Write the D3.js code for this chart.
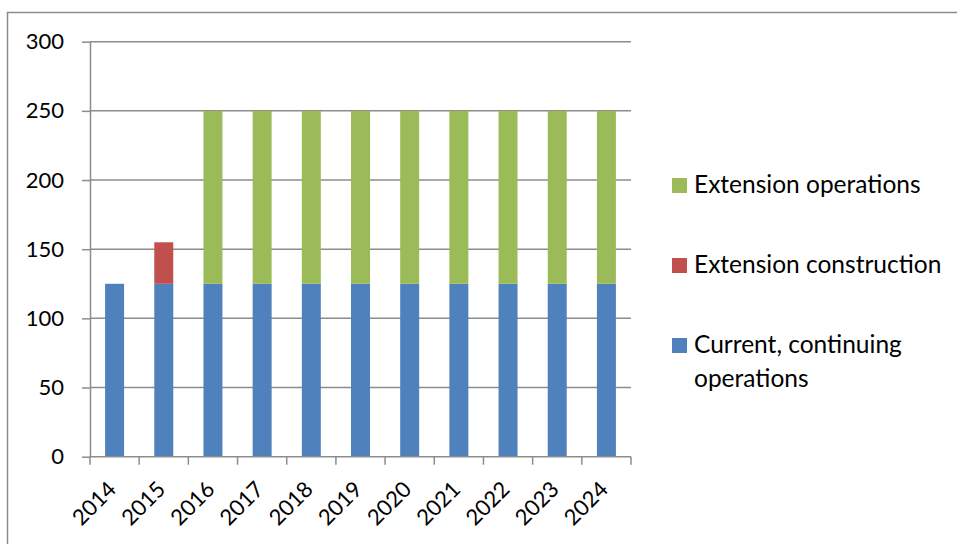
<!DOCTYPE html>
<html>
<head>
<meta charset="utf-8">
<script src="https://cdn.jsdelivr.net/npm/d3@7"></script>
<style>
  html, body { margin: 0; padding: 0; background: #fff; }
  svg { display: block; font-family: Lato, "Open Sans", sans-serif; }
</style>
</head>
<body>
<svg id="chart" width="957" height="544"></svg>
<script>
// Annual figures by year
const years = ["2014", "2015", "2016", "2017", "2018", "2019", "2020", "2021", "2022", "2023", "2024"];
const currentOps = [125, 125, 125, 125, 125, 125, 125, 125, 125, 125, 125];
const extConstruction = [0, 30, 0, 0, 0, 0, 0, 0, 0, 0, 0];
const extOperations = [0, 0, 125, 125, 125, 125, 125, 125, 125, 125, 125];
const yTicks = [0, 50, 100, 150, 200, 250, 300];

const seriesNames = ["Current, continuing operations", "Extension construction", "Extension operations"];
const seriesColors = ["#4F81BD", "#C0504D", "#9BBB59"];
const seriesValues = [currentOps, extConstruction, extOperations];

const svg = d3.select("#chart");
const gridColor = "#8c8c8c";

// Outer chart frame (runs past the right and bottom edges)
svg.append("rect")
  .attr("x", 7.5).attr("y", 12.5)
  .attr("width", 1000).attr("height", 600)
  .attr("fill", "none").attr("stroke", gridColor).attr("stroke-width", 1.5);

const plot = { left: 90, right: 631, top: 41.7, bottom: 456.7 };

const xCat = d3.scaleBand().domain(years).range([plot.left, plot.right]).padding(0);
const xBar = d3.scaleBand().domain(years).range([plot.left, plot.right])
  .paddingInner(0.614).paddingOuter(0.307);
const y = d3.scaleLinear().domain([0, 300]).range([plot.bottom, plot.top]);

// Horizontal gridlines
svg.append("g").selectAll("line").data(yTicks.filter(d => d > 0)).join("line")
  .attr("x1", plot.left).attr("x2", plot.right)
  .attr("y1", d => y(d)).attr("y2", d => y(d))
  .attr("stroke", gridColor).attr("stroke-width", 1.5);

// Stacked bars
const table = years.map((yr, i) => {
  const row = { year: yr };
  seriesNames.forEach((s, k) => { row[s] = seriesValues[k][i]; });
  return row;
});
const stacked = d3.stack().keys(seriesNames)(table);

svg.append("g").selectAll("g").data(stacked).join("g")
  .attr("fill", (d, i) => seriesColors[i])
  .selectAll("rect").data(d => d.filter(p => p[1] - p[0] > 0)).join("rect")
  .attr("x", d => xBar(d.data.year))
  .attr("width", xBar.bandwidth())
  .attr("y", d => y(d[1]))
  .attr("height", d => y(d[0]) - y(d[1]));

// Y axis
const yAxis = svg.append("g")
  .attr("transform", `translate(${plot.left},0)`)
  .call(d3.axisLeft(y).tickValues(yTicks).tickSizeInner(8).tickSizeOuter(0).tickPadding(18));
yAxis.select(".domain").attr("stroke", gridColor).attr("stroke-width", 1.5);
yAxis.selectAll(".tick line").attr("stroke", gridColor).attr("stroke-width", 1.5);
yAxis.selectAll(".tick text")
  .attr("fill", "#000").style("font-size", "22px").style("font-family", "Lato, sans-serif");

// X axis with ticks on category boundaries
const xAxisG = svg.append("g").attr("transform", `translate(0,${plot.bottom})`);
xAxisG.append("line")
  .attr("x1", plot.left).attr("x2", plot.right)
  .attr("stroke", gridColor).attr("stroke-width", 1.5);
const boundaries = years.map(d => xCat(d)).concat([plot.right]);
xAxisG.selectAll("line.tk").data(boundaries).join("line")
  .attr("class", "tk")
  .attr("x1", d => d).attr("x2", d => d)
  .attr("y1", 0).attr("y2", 8)
  .attr("stroke", gridColor).attr("stroke-width", 1.5);

// Year labels, rotated 45 degrees, ending just right of each category centre
xAxisG.selectAll("text").data(years).join("text")
  .attr("transform", d => `translate(${xCat(d) + xCat.bandwidth() / 2 + 3},${34}) rotate(-45)`)
  .attr("text-anchor", "end")
  .style("font-size", "22px")
  .attr("fill", "#000")
  .text(d => d);

// Legend (top entry is the last series)
const legendItems = [
  { name: "Extension operations", lines: ["Extension operations"], color: seriesColors[2], cy: 185.5 },
  { name: "Extension construction", lines: ["Extension construction"], color: seriesColors[1], cy: 265.5 },
  { name: "Current, continuing operations", lines: ["Current, continuing", "operations"], color: seriesColors[0], cy: 345.5 }
];
const legend = svg.append("g");
const lg = legend.selectAll("g").data(legendItems).join("g");
lg.append("rect")
  .attr("x", 672).attr("y", d => d.cy - 7.5)
  .attr("width", 15).attr("height", 15)
  .attr("fill", d => d.color);
lg.append("text")
  .attr("x", 694)
  .attr("y", d => d.cy + 7.5)
  .style("font-size", "24.5px")
  .attr("fill", "#000")
  .selectAll("tspan").data(d => d.lines).join("tspan")
  .attr("x", 694)
  .attr("dy", (d, i) => i === 0 ? 0 : 34)
  .text(d => d);
</script>
</body>
</html>
